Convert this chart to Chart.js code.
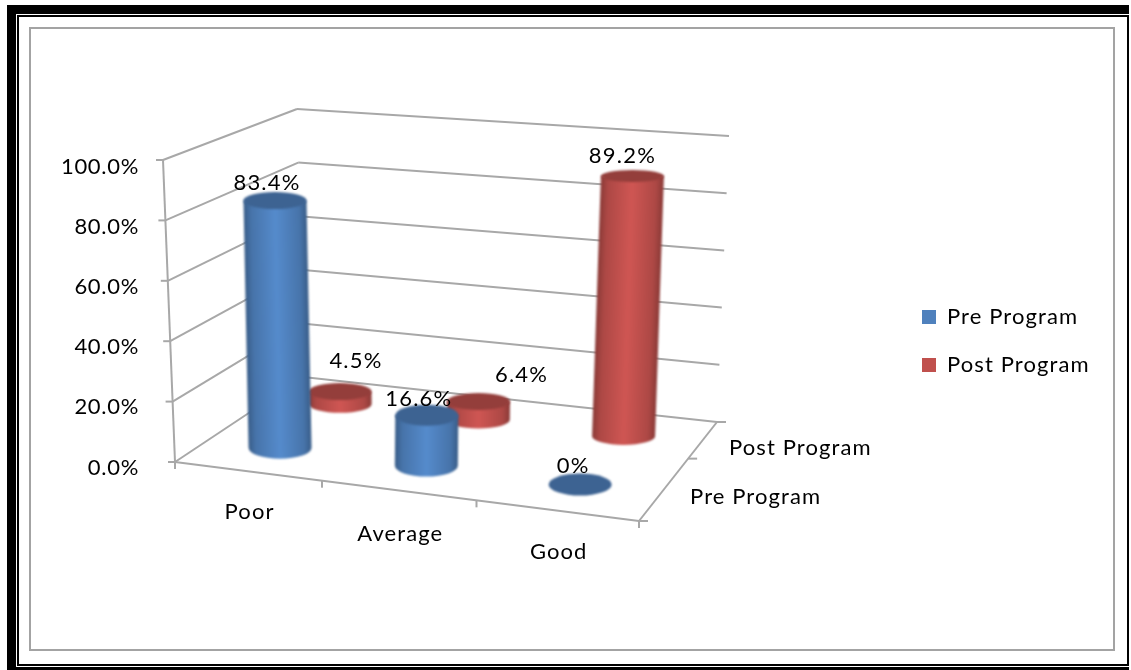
<!DOCTYPE html>
<html>
<head>
<meta charset="utf-8">
<title>Pre and Post Program</title>
<script src="https://cdn.jsdelivr.net/npm/chart.js@4/dist/chart.umd.min.js"></script>
<style>
  html, body { margin: 0; padding: 0; background: #fff; overflow: hidden; }
  .box { position: absolute; box-sizing: border-box; }
  #outer { left: 7px; top: 5px; width: 1122px; height: 665px; background: #000; }
  #gap { left: 16px; top: 14px; width: 1113px; height: 653px; background: #fff; }
  #inner { left: 17px; top: 15px; width: 1112px; height: 651px; border: 2px solid #000; }
  #plotBox { left: 29px; top: 27px; width: 1086px; height: 624px; border: 2px solid #a3a3a3; }
  #graph { position: absolute; left: 0; top: 0; }
</style>
</head>
<body>
<div class="box" id="outer"></div>
<div class="box" id="gap"></div>
<div class="box" id="inner"></div>
<div class="box" id="plotBox"></div>
<canvas id="graph" width="1131" height="670"></canvas>
<script>
// datos del grafico
const categories = ["Poor", "Average", "Good"];
const seriesNames = ["Pre Program", "Post Program"];
const prePrograma = [83.4, 16.6, 0];
const postPrograma = [4.5, 6.4, 89.2];
const yTicks = [0, 20, 40, 60, 80, 100];

const FONT = "Lato";
const seriesColors = ["#4f81bd", "#c0504d"];

// esquinas de la caja 3D en pantalla
const box3d = {
  frontBottomLeft: [175, 462], frontBottomRight: [639, 521],
  backBottomLeft: [303, 377], backBottomRight: [717, 422],
  frontTopLeft: [163, 160], frontTopRight: [658, 195],
  backTopLeft: [297, 109], backTopRight: [729, 136]
};
const perspectiveX = 1.078;
const depthRows = [0.27, 0.77];
const depthTickAt = 0.63;
const cylinderRx = 31.5;

// desplazamiento de cada etiqueta respecto a la tapa del cilindro
const labelShift = [
  [[-8, -18], [-8, -16], [-7, -19]],
  [[16, -31], [43, -27], [-10, -20]]
];

function lerp(a, b, t) {
  return [a[0] + (b[0] - a[0]) * t, a[1] + (b[1] - a[1]) * t];
}

function project(u, w, v) {
  const uu = u / (u + perspectiveX * (1 - u));
  const c = box3d;
  const bottom = lerp(lerp(c.frontBottomLeft, c.frontBottomRight, uu), lerp(c.backBottomLeft, c.backBottomRight, uu), w);
  const top = lerp(lerp(c.frontTopLeft, c.frontTopRight, uu), lerp(c.backTopLeft, c.backTopRight, uu), w);
  return lerp(bottom, top, v);
}

function segment(ctx, a, b) {
  ctx.beginPath();
  ctx.moveTo(a[0], a[1]);
  ctx.lineTo(b[0], b[1]);
  ctx.stroke();
}

function shade(hex, f) {
  const n = parseInt(hex.slice(1), 16);
  const ch = [(n >> 16) & 255, (n >> 8) & 255, n & 255].map((c) => Math.min(255, Math.round(c * f)));
  return `rgb(${ch[0]},${ch[1]},${ch[2]})`;
}

function drawCylinder(ctx, base, top, ryBase, ryTop, color) {
  const rx = cylinderRx;
  if (top[1] < base[1] - 0.5) {
    // el degradado sigue la inclinacion del cilindro
    const dx = top[0] - base[0], dy = top[1] - base[1];
    const len = Math.hypot(dx, dy);
    const nx = -dy / len * rx, ny = dx / len * rx;
    const grad = ctx.createLinearGradient(base[0] - nx, base[1] - ny, base[0] + nx, base[1] + ny);
    grad.addColorStop(0, shade(color, 0.72));
    grad.addColorStop(0.12, shade(color, 0.9));
    grad.addColorStop(0.5, shade(color, 1.08));
    grad.addColorStop(0.88, shade(color, 0.9));
    grad.addColorStop(1, shade(color, 0.72));
    ctx.fillStyle = grad;
    ctx.beginPath();
    ctx.moveTo(top[0] - rx, top[1]);
    ctx.lineTo(base[0] - rx, base[1]);
    ctx.ellipse(base[0], base[1], rx, ryBase, 0, Math.PI, 0, true);
    ctx.lineTo(top[0] + rx, top[1]);
    ctx.closePath();
    ctx.fill();
  }
  ctx.fillStyle = shade(color, 0.77);
  ctx.beginPath();
  ctx.ellipse(top[0], top[1], rx, ryTop, 0, 0, Math.PI * 2);
  ctx.fill();
}

// envuelve un metodo de dibujo para aplicar espaciado entre letras
function withSpacing(obj, method, ctx, spacing) {
  const original = obj[method];
  obj[method] = function (...args) {
    ctx.save();
    ctx.letterSpacing = spacing;
    original.apply(obj, args);
    ctx.restore();
  };
}

const chart3d = {
  id: "chart3d",
  afterLayout(chart) {
    // la leyenda se coloca a mano a la derecha (con margen para que no recorte el texto)
    const legend = chart.legend;
    const h = legend.height;
    legend.left = 896; legend.right = 1112;
    legend.top = 280; legend.bottom = 280 + h;
    legend.adjustHitBoxes();
    if (!chart.$spaced) {
      withSpacing(legend, "draw", chart.ctx, "1.1px");
      withSpacing(chart.scales.y, "drawLabels", chart.ctx, "0.7px");
      chart.$spaced = true;
    }
  },
  beforeDatasetsDraw(chart) {
    const ctx = chart.ctx;
    const y = chart.scales.y;
    const n = categories.length;
    ctx.save();
    ctx.filter = "blur(0.6px)";
    ctx.strokeStyle = "#a8a8a8";
    ctx.lineWidth = 2;
    yTicks.forEach((tick) => {
      const v = (y.bottom - y.getPixelForValue(tick)) / y.height;
      const a = project(0, 0, v), b = project(0, 1, v), c = project(1, 1, v);
      segment(ctx, [a[0] - 7, a[1]], a);
      segment(ctx, a, b);
      segment(ctx, b, c);
    });
    segment(ctx, project(0, 0, 0), project(0, 0, 1));
    segment(ctx, project(0, 0, 0), project(1, 0, 0));
    segment(ctx, project(1, 0, 0), project(1, 1, 0));
    for (let i = 0; i <= n; i++) {
      const p = project(i / n, 0, 0);
      segment(ctx, p, [p[0], p[1] + 7]);
    }
    [0, depthTickAt, 1].forEach((w) => {
      const p = project(1, w, 0);
      segment(ctx, p, [p[0] + 9, p[1]]);
    });
    ctx.restore();
  },
  beforeDatasetDraw() {
    // los cilindros se dibujan en afterDatasetsDraw, no las barras planas
    return false;
  },
  afterDatasetsDraw(chart) {
    const ctx = chart.ctx;
    const x = chart.scales.x, y = chart.scales.y;
    const marks = [];
    chart.data.datasets.forEach((ds, d) => {
      ds.data.forEach((val, i) => {
        const u = (x.getPixelForValue(i) - x.left) / x.width;
        const v = (y.bottom - y.getPixelForValue(val)) / y.height;
        const base = project(u, depthRows[d], 0);
        const top = project(u, depthRows[d], v);
        marks.push({ d, i, val, base, top, v });
      });
    });
    // primero la fila de atras
    ctx.save();
    ctx.filter = "blur(0.8px)";
    [1, 0].forEach((d) => {
      marks.filter((m) => m.d === d).forEach((m) => {
        const ryBase = d === 0 ? 11 : 8.7;
        drawCylinder(ctx, m.base, m.top, ryBase, ryBase - m.v * 3, seriesColors[d]);
      });
    });
    ctx.restore();

    ctx.save();
    ctx.fillStyle = "#000";
    ctx.textAlign = "center";
    ctx.textBaseline = "middle";
    ctx.font = `22px ${FONT}`;
    ctx.letterSpacing = "1.2px";
    marks.forEach((m) => {
      const s = labelShift[m.d][m.i];
      const text = m.val === 0 ? "0%" : m.val.toFixed(1) + "%";
      ctx.fillText(text, m.top[0] + s[0], m.top[1] + s[1]);
    });
    // etiquetas de categoria sobre el borde frontal
    ctx.letterSpacing = "1.1px";
    categories.forEach((name, i) => {
      const u = (x.getPixelForValue(i) - x.left) / x.width;
      const p = project(u, 0, 0);
      ctx.fillText(name, p[0] + 2, p[1] + (i === 1 ? 44 : 41));
    });
    // etiquetas de profundidad
    ctx.textAlign = "left";
    seriesNames.forEach((name, d) => {
      const p = project(1, depthRows[d], 0);
      ctx.fillText(name, p[0] + 30, p[1] + 3);
    });
    ctx.restore();
  }
};

new Chart(document.getElementById("graph"), {
  type: "bar",
  data: {
    labels: categories,
    datasets: [
      { label: seriesNames[0], data: prePrograma, backgroundColor: seriesColors[0] },
      { label: seriesNames[1], data: postPrograma, backgroundColor: seriesColors[1] }
    ]
  },
  plugins: [chart3d],
  options: {
    responsive: false,
    animation: false,
    events: [],
    layout: { padding: { top: 166.5, bottom: 202.5, left: 0, right: 0 } },
    scales: {
      x: { display: false },
      y: {
        min: 0,
        max: 100,
        afterFit(scale) { scale.width = 148; },
        afterBuildTicks(scale) { scale.ticks = yTicks.map((value) => ({ value })); },
        grid: { display: false },
        border: { display: false },
        ticks: {
          color: "#000",
          padding: 1,
          font: { family: FONT, size: 22 },
          callback: (value) => value.toFixed(1) + "%"
        }
      }
    },
    plugins: {
      tooltip: { enabled: false },
      legend: {
        position: "right",
        align: "start",
        labels: {
          color: "#000",
          boxWidth: 14,
          boxHeight: 14,
          padding: 26,
          font: { family: FONT, size: 22 }
        }
      }
    }
  }
});
</script>
</body>
</html>
